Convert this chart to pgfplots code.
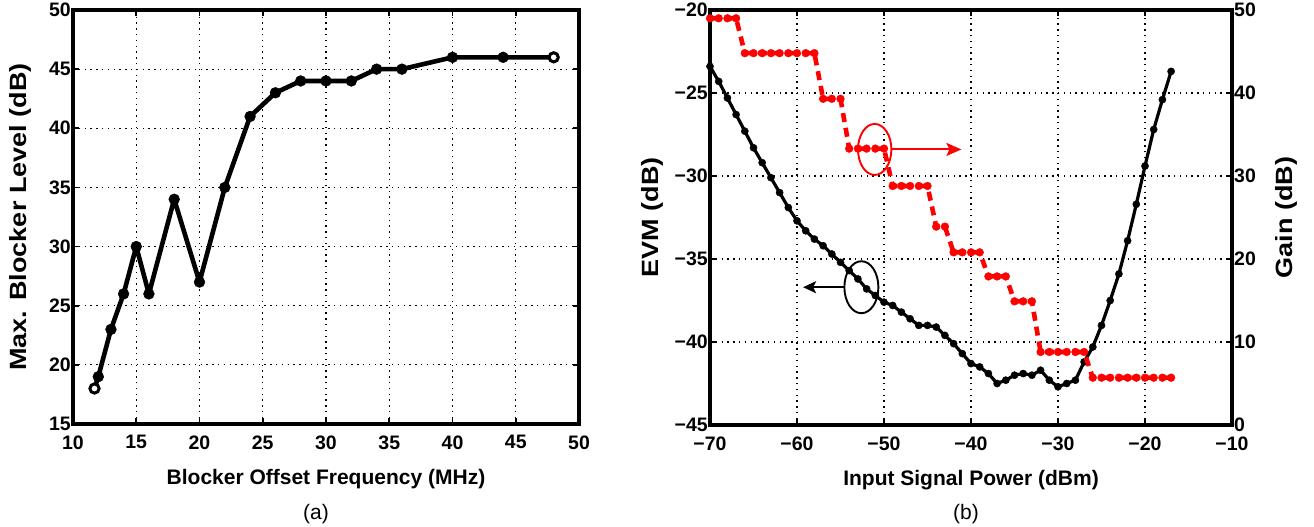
\documentclass[border=0pt]{standalone}
\usepackage{fontspec}
\setmainfont{Liberation Sans}
\usepackage{graphicx}
\usepackage{pgfplots}
\usepackage{pgfplotstable}
\pgfplotsset{compat=1.18}
\usetikzlibrary{arrows.meta}
\definecolor{mred}{RGB}{255,0,0}

\pgfplotstableread{
x y
11.7 18
12 19
13 23
14 26
15 30
16 26
18 34
20 27
22 35
24 41
26 43
28 44
30 44
32 44
34 45
36 45
40 46
44 46
48 46
}\blocker

\pgfplotstableread{
x evm
-70 -23.4
-69 -24.3
-68 -25.3
-67 -26.3
-66 -27.3
-65 -28.3
-64 -29.2
-63 -30.1
-62 -31.0
-61 -31.9
-60 -32.7
-59 -33.3
-58 -33.8
-57 -34.2
-56 -34.7
-55 -35.2
-54 -35.7
-53 -36.2
-52 -36.8
-51 -37.2
-50 -37.6
-49 -37.8
-48 -38.2
-47 -38.6
-46 -39.0
-45 -39.0
-44 -39.1
-43 -39.6
-42 -40.1
-41 -40.7
-40 -41.3
-39 -41.5
-38 -41.9
-37 -42.5
-36 -42.3
-35 -42.0
-34 -41.9
-33 -42.0
-32 -41.7
-31 -42.3
-30 -42.7
-29 -42.5
-28 -42.3
-27 -41.2
-26 -40.3
-25 -39.0
-24 -37.5
-23 -35.9
-22 -33.9
-21 -31.7
-20 -29.4
-19 -27.2
-18 -25.4
-17 -23.7
}\evm

\pgfplotstableread{
x gain
-70 49.0
-69 49.0
-68 49.0
-67 49.0
-66 44.8
-65 44.8
-64 44.8
-63 44.8
-62 44.8
-61 44.8
-60 44.8
-59 44.8
-58 44.8
-57 39.3
-56 39.3
-55 39.3
-54 33.3
-53 33.3
-52 33.3
-51 33.3
-50 33.3
-49 28.8
-48 28.8
-47 28.8
-46 28.8
-45 28.8
-44 23.9
-43 23.9
-42 20.8
-41 20.8
-40 20.8
-39 20.8
-38 17.9
-37 17.9
-36 17.9
-35 14.9
-34 14.9
-33 14.9
-32 8.8
-31 8.8
-30 8.8
-29 8.8
-28 8.8
-27 8.8
-26 5.7
-25 5.7
-24 5.7
-23 5.7
-22 5.7
-21 5.7
-20 5.7
-19 5.7
-18 5.7
-17 5.7
}\gain

\pgfplotsset{
  mstyle/.style={
    scale only axis,
    axis line style={line width=4pt},
    every tick/.style={black, line width=1.8pt},
    major tick length=6pt,
    tick align=inside,
    tick label style={font=\fontsize{19.5}{19.5}\selectfont\bfseries},
    yticklabel style={inner sep=2pt},
    xticklabel style={yshift=-8pt},
    xlabel style={font=\fontsize{21}{21}\selectfont\bfseries},
    ylabel style={font=\fontsize{23.5}{23.5}\selectfont\bfseries},
    /pgf/number format/assume math mode=true,
    major grid style={black, line width=1.2pt, dash pattern=on 1.4pt off 4.4pt},
    clip=false,
  }
}

\begin{document}
\begin{tikzpicture}
\useasboundingbox (0pt,0pt) rectangle (1314pt,527pt);

% ---------- (a) ----------
\begin{axis}[mstyle, at={(73pt,103pt)}, anchor=south west,
  width=506pt, height=414pt,
  xmin=10, xmax=50, ymin=15, ymax=50,
  xtick={10,15,...,50}, ytick={15,20,...,50},
  grid=major,
  xlabel={Blocker Offset Frequency (MHz)},
  ylabel={\scalebox{1.15}[1]{Max. Blocker Level (dB)}},
  xlabel style={at={(axis description cs:0.5,-0.147)}, anchor=base},
  ylabel style={at={(axis description cs:-0.1047,0.5)}, anchor=center},
]
\addplot[black, line width=4.6pt, line join=round, mark=*, mark size=5.4pt,
  mark options={solid, line width=0.5pt, fill=black}] table[x=x,y=y] {\blocker};
\addplot[only marks, mark=*, mark size=4.6pt,
  mark options={solid, fill=white, draw=black, line width=3pt}]
  coordinates {(11.7,18) (48,46)};
\end{axis}

% ---------- (b) EVM ----------
\begin{axis}[mstyle, at={(710pt,102pt)}, anchor=south west,
  width=522pt, height=415pt,
  xmin=-70, xmax=-10, ymin=-45, ymax=-20,
  xtick={-70,-60,...,-10},
  xticklabels={−70,−60,−50,−40,−30,−20,−10},
  ytick={-45,-40,...,-20},
  yticklabels={−45,−40,−35,−30,−25,−20},
  ytick pos=left,
  grid=major,
  xlabel={Input Signal Power (dBm)},
  ylabel={\scalebox{1.15}[1]{EVM (dB)}},
  xlabel style={at={(axis description cs:0.5,-0.1446)}, anchor=base},
  ylabel style={at={(axis description cs:-0.111,0.5)}, anchor=center},
]
\addplot[black, line width=3.2pt, line join=round, mark=*, mark size=3.6pt,
  mark options={solid, line width=0.4pt, fill=black}] table[x=x,y=evm] {\evm};
\draw[black, line width=1.9pt] (axis cs:-52.6,-36.7) ellipse [x radius=17pt, y radius=26pt];
\draw[black, line width=1.9pt, -{Stealth[length=13pt,width=12pt,inset=3pt]}]
  (axis cs:-54.55,-36.7) -- (axis cs:-59.3,-36.7);
\end{axis}

% ---------- (b) Gain ----------
\begin{axis}[mstyle, at={(710pt,102pt)}, anchor=south west,
  width=522pt, height=415pt,
  xmin=-70, xmax=-10, ymin=0, ymax=50,
  ytick={0,10,...,50},
  hide x axis,
  ytick pos=right, yticklabel pos=right,
  ylabel={\scalebox{1.15}[1]{Gain (dB)}},
  ylabel style={at={(axis description cs:1.104,0.5)}, anchor=center},
]
\addplot[mred, line width=4.6pt, dash pattern=on 9pt off 6pt, mark=*, mark size=3.9pt,
  mark options={solid, line width=0.4pt, fill=mred}] table[x=x,y=gain] {\gain};
\draw[mred, line width=1.9pt] (axis cs:-51.07,33.2) ellipse [x radius=16.7pt, y radius=25.5pt];
\draw[mred, line width=1.9pt, -{Stealth[length=15pt,width=13pt,inset=3pt]}]
  (axis cs:-49.15,33.2) -- (axis cs:-41.1,33.2);
\end{axis}

\node[font=\fontsize{21}{21}\selectfont] at (316pt,13pt) {(a)};
\node[font=\fontsize{21}{21}\selectfont] at (966pt,13pt) {(b)};
\end{tikzpicture}
\end{document}
